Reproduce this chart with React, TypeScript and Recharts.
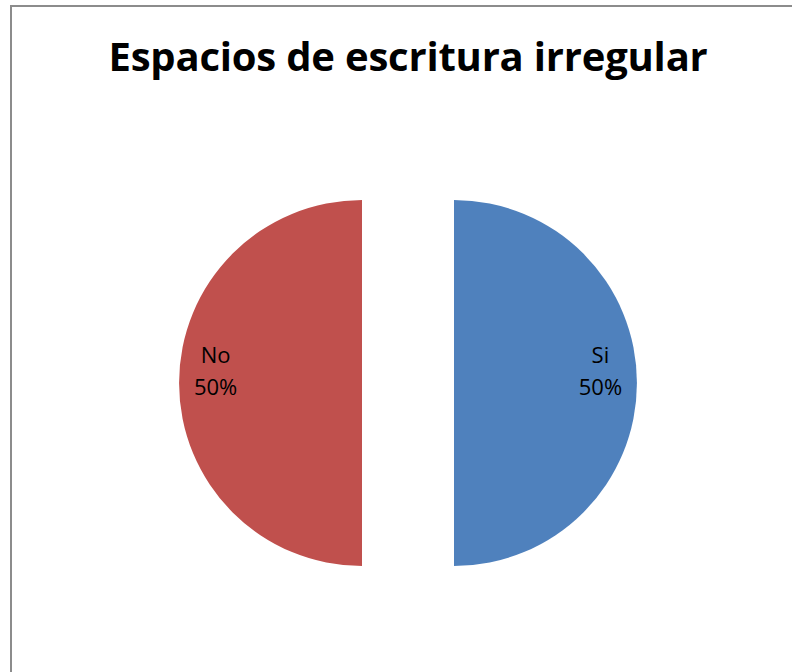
import React from "react";
import { PieChart, Pie, Cell, Sector } from "recharts";

const categories = ["Si", "No"];
const values = [50, 50];
const colors = ["#4F81BD", "#C0504D"];

const data = categories.map((name, i) => ({ name, value: values[i] }));

const RAD = Math.PI / 180;
const EXPLODE = 46;

// pull each slice outward along its mid angle (exploded pie)
function ExplodedSector(props: any) {
  const { cx, cy, midAngle } = props;
  const dx = EXPLODE * Math.cos(-midAngle * RAD);
  const dy = EXPLODE * Math.sin(-midAngle * RAD);
  return <Sector {...props} cx={cx + dx} cy={cy + dy} stroke="none" />;
}

function SliceLabel(props: any) {
  const { cx, cy, midAngle, outerRadius, name, percent } = props;
  const r = EXPLODE + outerRadius * 0.8;
  const x = cx + r * Math.cos(-midAngle * RAD);
  const y = cy + r * Math.sin(-midAngle * RAD);
  return (
    <text
      x={x}
      y={y}
      textAnchor="middle"
      fill="#000"
      fontFamily="'Open Sans', sans-serif"
      fontSize={22}
    >
      <tspan x={x} y={y - 20}>{name}</tspan>
      <tspan x={x} y={y + 12}>{`${Math.round(percent * 100)}%`}</tspan>
    </text>
  );
}

export default function App() {
  return (
    <div style={{ position: "absolute", left: 0, top: 0, width: 792, height: 672, overflow: "hidden", background: "#fff" }}>
      <div
        style={{
          position: "absolute",
          left: 10,
          top: 5,
          width: 820,
          height: 720,
          border: "2px solid #8c8c8c",
          boxSizing: "border-box",
        }}
      />
      <div
        style={{
          position: "absolute",
          left: 0,
          width: 816,
          top: 28,
          textAlign: "center",
          fontFamily: "'Open Sans', sans-serif",
          fontWeight: 700,
          fontSize: 40,
          lineHeight: "56px",
          letterSpacing: -0.2,
          color: "#000",
        }}
      >
        Espacios de escritura irregular
      </div>
      <div style={{ position: "absolute", left: 0, top: 0 }}>
        <PieChart width={792} height={672} margin={{ top: 0, right: 0, bottom: 0, left: 0 }}>
          <Pie
            data={data}
            dataKey="value"
            nameKey="name"
            cx={408}
            cy={383}
            outerRadius={183}
            startAngle={90}
            endAngle={-270}
            shape={ExplodedSector}
            activeShape={ExplodedSector}
            inactiveShape={ExplodedSector}
            label={SliceLabel}
            labelLine={false}
            isAnimationActive={false}
          >
            {data.map((d, i) => (
              <Cell key={d.name} fill={colors[i]} />
            ))}
          </Pie>
        </PieChart>
      </div>
    </div>
  );
}
